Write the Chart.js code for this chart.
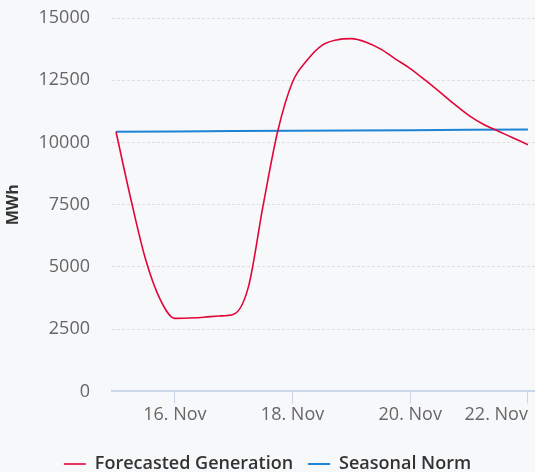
<!DOCTYPE html>
<html>
<head>
<meta charset="utf-8">
<script src="https://cdn.jsdelivr.net/npm/chart.js@4.4.1/dist/chart.umd.min.js"></script>
<style>
  html, body { margin: 0; padding: 0; background: #f7f8fa; }
  #wrap { width: 535px; height: 472px; position: relative; }
</style>
</head>
<body>
<div id="wrap"><canvas id="c" width="535" height="472"></canvas></div>
<script>
// Forecasted generation, 6-hourly (x = day of November)
const genDays = [15, 15.25, 15.5, 15.75, 16, 16.25, 16.5, 16.75, 17, 17.25, 17.5, 17.75,
  18, 18.25, 18.5, 18.75, 19, 19.25, 19.5, 19.75, 20, 20.25, 20.5, 20.75, 21, 21.25, 21.5, 21.75, 22];
const genValues = [10430, 7750, 5330, 3700, 2934, 2950, 2980, 3030, 3100, 4200, 7470, 10470,
  12430, 13310, 13900, 14120, 14170, 14030, 13750, 13350, 12970, 12510, 12030, 11540, 11080, 10720, 10450, 10180, 9910];
// Seasonal norm, daily
const normDays = [15, 16, 17, 18, 19, 20, 21, 22];
const normValues = [10430, 10443, 10456, 10469, 10482, 10495, 10508, 10520];
const xTicks = [16, 18, 20, 22];
const yTicks = [0, 2500, 5000, 7500, 10000, 12500, 15000];
const seriesNames = ['Forecasted Generation', 'Seasonal Norm'];
const axisTitle = 'MWh';

const FONT = "'Open Sans', 'Noto Sans', sans-serif";
const X_MIN = 14.932, X_MAX = 22.12;

const legendShift = {
  id: 'legendShift',
  afterLayout(chart) {
    const lg = chart.legend;
    if (lg) { lg.top += 13; lg.bottom += 13; }
  }
};

new Chart(document.getElementById('c'), {
  type: 'line',
  plugins: [legendShift],
  data: {
    datasets: [
      {
        label: seriesNames[0],
        data: genDays.map((d, i) => ({ x: d, y: genValues[i] })),
        borderColor: '#e2063a',
        backgroundColor: '#e2063a',
        borderWidth: 1.6,
        pointRadius: 0,
        cubicInterpolationMode: 'monotone',
        pointStyle: 'line'
      },
      {
        label: seriesNames[1],
        data: normDays.map((d, i) => ({ x: d, y: normValues[i] })),
        borderColor: '#1c84d6',
        backgroundColor: '#1c84d6',
        borderWidth: 2,
        pointRadius: 0,
        pointStyle: 'line'
      }
    ]
  },
  options: {
    responsive: false,
    animation: false,
    layout: { padding: { top: 18, right: 0, left: 0, bottom: 2 } },
    plugins: {
      tooltip: { enabled: false },
      legend: {
        position: 'bottom',
        labels: {
          usePointStyle: true,
          pointStyleWidth: 22,
          padding: 15,
          color: '#333333',
          font: { family: FONT, size: 18, weight: '600' }
        }
      }
    },
    scales: {
      x: {
        type: 'linear',
        min: X_MIN,
        max: X_MAX,
        afterBuildTicks: (scale) => {
          scale.ticks = [X_MIN].concat(xTicks).map(v => ({ value: v }));
        },
        ticks: {
          align: 'inner',
          autoSkip: false,
          maxRotation: 0,
          padding: 1,
          color: '#666666',
          font: { family: FONT, size: 18 },
          callback: (v) => (v < 15 ? '' : v + '. Nov')
        },
        grid: {
          drawOnChartArea: false,
          drawTicks: true,
          tickLength: 12,
          tickWidth: 1,
          tickColor: (ctx) => (ctx.tick && ctx.tick.value < 15 ? 'rgba(0,0,0,0)' : '#ccd6eb')
        },
        border: { display: true, color: '#ccd6eb', width: 2 }
      },
      y: {
        min: 0,
        max: 15000,
        afterBuildTicks: (scale) => {
          scale.ticks = yTicks.map(v => ({ value: v }));
        },
        afterFit: (scale) => {
          scale.width = 112;
          scale.paddingTop = 0;
          scale.paddingBottom = 0;
        },
        ticks: {
          padding: 22,
          color: '#666666',
          font: { family: FONT, size: 18 },
          callback: (v) => String(v)
        },
        title: {
          display: true,
          text: axisTitle,
          color: '#333333',
          font: { family: FONT, size: 16, weight: 'bold' },
          padding: { top: 4, bottom: 0 }
        },
        grid: {
          drawTicks: false,
          color: (ctx) => (ctx.tick && ctx.tick.value === 0 ? 'rgba(0,0,0,0)' : '#dcdfe3'),
          lineWidth: 1
        },
        border: { display: false, dash: [3, 2] }
      }
    }
  }
});
</script>
</body>
</html>
